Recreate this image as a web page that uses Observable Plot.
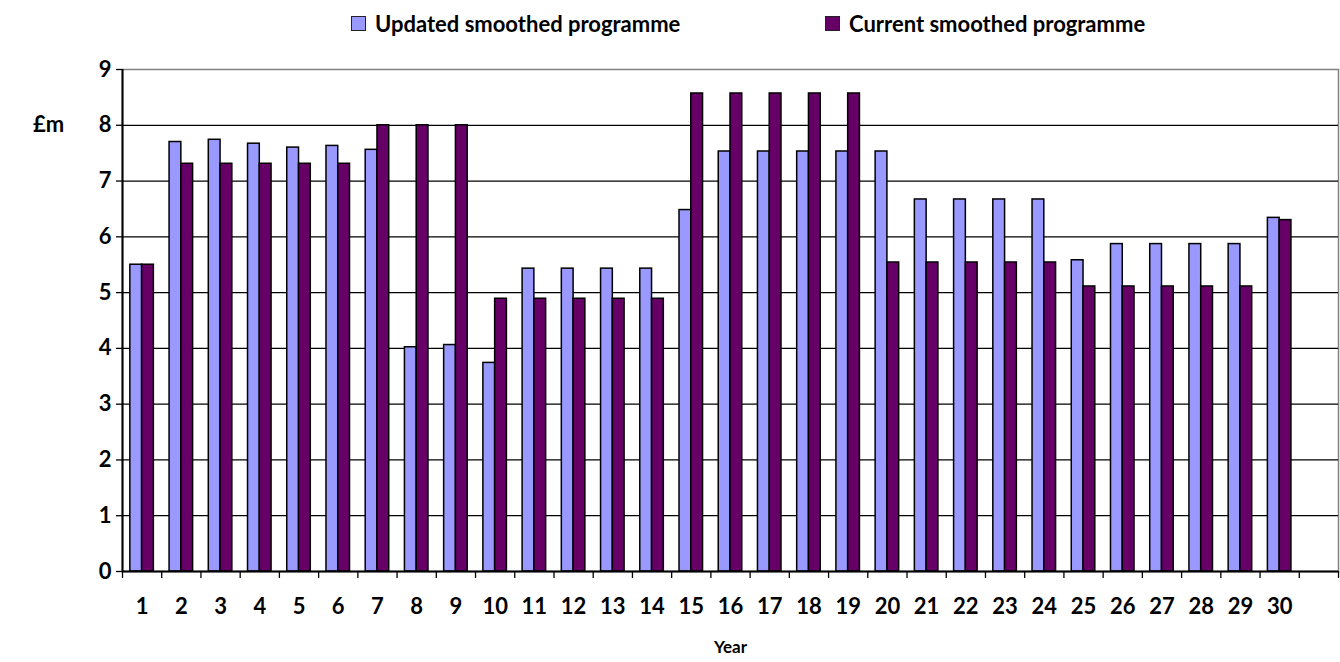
<!DOCTYPE html>
<html><head><meta charset="utf-8">
<script src="https://cdn.jsdelivr.net/npm/d3@7"></script>
<script src="https://cdn.jsdelivr.net/npm/@observablehq/plot@0.6"></script>
<style>
body{margin:0;background:#fff;font-family:Lato,"Open Sans",sans-serif;}
#legend{position:relative;height:48px;width:1340px;font-weight:700;font-size:22px;color:#000;}
.item{position:absolute;top:10px;display:flex;align-items:center;white-space:nowrap;}
.sw{width:13px;height:13px;border:1.5px solid #222;margin-right:9px;}
</style></head><body>
<div id="legend"></div><div id="chart"></div>
<script>
const years = [1,2,3,4,5,6,7,8,9,10,11,12,13,14,15,16,17,18,19,20,21,22,23,24,25,26,27,28,29,30];
const updated = [5.50,7.70,7.74,7.67,7.60,7.63,7.56,4.02,4.06,3.74,5.43,5.43,5.43,5.43,6.48,7.53,7.53,7.53,7.53,7.53,6.67,6.67,6.67,6.67,5.58,5.87,5.87,5.87,5.87,6.34];
const current = [5.50,7.31,7.31,7.31,7.31,7.31,8.00,8.00,8.00,4.89,4.89,4.89,4.89,4.89,8.57,8.57,8.57,8.57,8.57,5.54,5.54,5.54,5.54,5.54,5.11,5.11,5.11,5.11,5.11,6.30];
const seriesNames = ["Updated smoothed programme","Current smoothed programme"];
const seriesColors = ["#9999FF","#660066"];
const yTicks = [0,1,2,3,4,5,6,7,8,9];
const yLabel = "£m";
const xLabel = "Year";

// legend
const legend = document.getElementById("legend");
const legendLeft = [351, 825];
seriesNames.forEach((name,i)=>{
  const it = document.createElement("div");
  it.className="item"; it.style.left = legendLeft[i]+"px";
  it.innerHTML = `<span class="sw" style="background:${seriesColors[i]}"></span><span>${name}</span>`;
  legend.appendChild(it);
});

const rows = [];
years.forEach((y,i)=>{
  rows.push({year:y, series:seriesNames[0], value:updated[i], k:0});
  rows.push({year:y, series:seriesNames[1], value:current[i], k:1});
});
const w = 0.3; // bar width in category units
const nSlots = years.length + 1;
const boundaries = d3.range(0.5, nSlots + 1, 1);

const chart = Plot.plot({
  width: 1340, height: 614,
  marginLeft: 122, marginRight: 2, marginTop: 21, marginBottom: 91,
  style: {fontFamily: "Lato, 'Open Sans', sans-serif", color: "#000", background: "#fff"},
  x: {domain: [0.5, nSlots + 0.5], axis: null},
  y: {domain: [0, 9], axis: null},
  color: {domain: seriesNames, range: seriesColors},
  marks: [
    Plot.frame({stroke: "#808080", strokeWidth: 1.5}),
    Plot.ruleY(yTicks.filter(d => d > 0 && d < 9), {stroke: "#000", strokeWidth: 1.3}),
    Plot.rectY(rows, {
      x1: d => d.k === 0 ? d.year - w : d.year,
      x2: d => d.k === 0 ? d.year : d.year + w,
      y: "value", fill: "series", stroke: "#000", strokeWidth: 1.5
    }),
    Plot.ruleY([0], {stroke: "#000", strokeWidth: 2}),
    Plot.ruleX([0.5], {stroke: "#000", strokeWidth: 2}),
    Plot.axisY({ticks: yTicks, tickSize: 6, tickPadding: 5, tickFormat: d => String(d), fontSize: 22, fontWeight: "bold", label: null, strokeWidth: 1.3}),
    Plot.axisX({ticks: boundaries, tickSize: 7, tickFormat: () => "", label: null, strokeWidth: 1.3}),
    Plot.axisX({ticks: years, tickSize: 0, tickPadding: 27, tickFormat: d => String(d), fontSize: 22, fontWeight: "bold", label: null}),
    Plot.text([8], {y: d => d, frameAnchor: "left", text: () => yLabel, dx: -74, fontSize: 22, fontWeight: "bold", textAnchor: "middle"}),
    Plot.text([0], {frameAnchor: "bottom", text: () => xLabel, dy: 81, fontSize: 17, fontWeight: "bold"})
  ]
});
document.getElementById("chart").appendChild(chart);
</script>
</body></html>
